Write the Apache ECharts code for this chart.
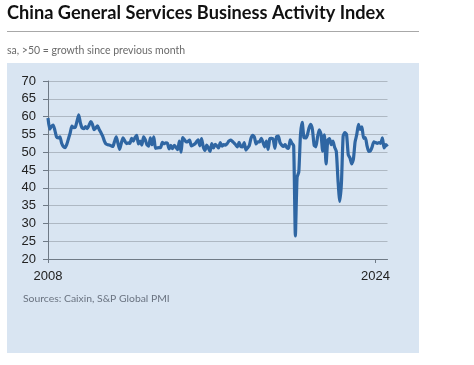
<!DOCTYPE html>
<html>
<head>
<meta charset="utf-8">
<script src="https://cdn.jsdelivr.net/npm/echarts@6/dist/echarts.min.js"></script>
<style>
html,body{margin:0;padding:0;background:#fff;}
#chart{width:474px;height:365px;}
</style>
</head>
<body>
<div id="chart"></div>
<script>
// Monthly index values, Jan 2008 - Aug 2024
var v2008 = [59.6, 56.5, 57.2, 57.6, 56.2, 54.3, 54.0, 54.3, 52.5, 51.6, 51.3, 52.2];
var v2009 = [53.8, 55.4, 57.3, 56.9, 57.0, 58.7, 60.5, 58.2, 56.8, 56.6, 57.2, 56.6];
var v2010 = [57.5, 58.6, 57.9, 56.3, 56.8, 57.4, 56.4, 55.5, 54.6, 53.2, 52.3, 52.1];
var v2011 = [52.0, 51.8, 51.6, 53.0, 54.3, 52.5, 50.8, 52.6, 54.0, 53.2, 52.4, 52.6];
var v2012 = [52.5, 53.9, 53.1, 54.1, 54.7, 52.3, 53.1, 52.0, 54.3, 53.5, 52.1, 51.7];
var v2013 = [54.0, 52.1, 54.3, 51.1, 51.2, 51.3, 51.3, 52.8, 52.4, 52.6, 52.5, 50.9];
var v2014 = [51.9, 51.0, 51.9, 51.4, 50.7, 53.1, 50.0, 54.1, 53.5, 52.9, 53.0, 53.4];
var v2015 = [51.8, 52.0, 52.3, 52.9, 53.5, 51.8, 53.8, 51.5, 50.5, 52.0, 51.2, 50.2];
var v2016 = [52.4, 51.2, 52.2, 51.8, 51.2, 52.7, 51.7, 52.1, 52.0, 52.4, 53.1, 53.4];
var v2017 = [53.1, 52.6, 52.1, 51.5, 52.8, 51.6, 51.5, 52.7, 50.6, 51.2, 51.9, 53.9];
var v2018 = [54.7, 54.2, 52.3, 52.9, 52.9, 53.9, 52.8, 51.5, 53.1, 50.8, 53.8, 53.9];
var v2019 = [53.6, 51.1, 54.4, 54.5, 52.7, 52.0, 51.6, 52.1, 51.3, 51.1, 53.5, 52.5];
var v2020 = [51.8, 26.5, 43.0, 44.4, 55.0, 58.4, 54.1, 54.0, 54.8, 56.8, 57.8, 56.3];
var v2021 = [52.0, 51.5, 54.3, 56.3, 55.1, 50.3, 54.9, 46.7, 53.4, 53.8, 52.1, 53.1];
var v2022 = [51.4, 50.2, 42.0, 36.2, 41.4, 54.5, 55.5, 55.0, 49.3, 48.4, 46.7, 48.0];
var v2023 = [52.9, 55.0, 57.8, 56.4, 57.1, 53.9, 54.1, 51.8, 50.2, 50.4, 51.5, 52.9];
var v2024 = [52.7, 52.5, 52.7, 52.5, 54.0, 51.2, 52.1, 51.6];

var yearArrays = [v2008, v2009, v2010, v2011, v2012, v2013, v2014, v2015, v2016,
                  v2017, v2018, v2019, v2020, v2021, v2022, v2023, v2024];
var firstYear = 2008;
var labeledYears = ['2008', '2024'];
var yTicks = {min: 20, max: 70, step: 5};

var categories = [];
var values = [];
yearArrays.forEach(function (arr, i) {
  arr.forEach(function (v, m) {
    categories.push((firstYear + i) + '-' + (m < 9 ? '0' : '') + (m + 1));
    values.push(v);
  });
});

function isLabeled(idx) {
  var c = categories[idx];
  return c.slice(5) === '01' && labeledYears.indexOf(c.slice(0, 4)) >= 0;
}

var chart = echarts.init(document.getElementById('chart'), null, {renderer: 'canvas'});
var axisColor = '#6f7a86';
chart.setOption({
  animation: false,
  backgroundColor: '#ffffff',
  graphic: [
    {type: 'rect', z: -10, shape: {x: 7, y: 63, width: 412, height: 290}, style: {fill: '#d9e5f2'}},
    {type: 'line', shape: {x1: 7, y1: 31.5, x2: 419, y2: 31.5}, style: {stroke: '#a8a8a8', lineWidth: 1}},
    {type: 'text', left: 7, top: 4, style: {text: 'China General Services Business Activity Index', font: '700 18.2px Lato', fill: '#111111'}},
    {type: 'text', left: 7, top: 45, style: {text: 'sa, >50 = growth since previous month', font: '400 10.5px Lato', fill: '#6a6a6a'}},
    {type: 'text', left: 23, top: 294, style: {text: 'Sources: Caixin, S&P Global PMI', font: '400 10.4px Lato', fill: '#6a7380'}}
  ],
  grid: {left: 48, right: 86.5, top: 81, bottom: 106, containLabel: false},
  xAxis: {
    type: 'category',
    data: categories,
    boundaryGap: false,
    axisLine: {show: true, lineStyle: {color: axisColor, width: 1}},
    axisTick: {show: true, length: 4, interval: function (idx) { return isLabeled(idx); }, lineStyle: {color: axisColor}},
    axisLabel: {
      interval: function (idx) { return isLabeled(idx); },
      formatter: function (v) { return v.slice(0, 4); },
      color: '#222222', fontSize: 13, fontFamily: 'Liberation Sans', margin: 11
    },
    splitLine: {show: false}
  },
  yAxis: {
    type: 'value',
    min: yTicks.min, max: yTicks.max, interval: yTicks.step,
    axisLine: {show: true, lineStyle: {color: axisColor, width: 1}},
    axisTick: {show: true, length: 5, lineStyle: {color: axisColor}},
    axisLabel: {color: '#222222', fontSize: 13, fontFamily: 'Liberation Sans', margin: 12},
    splitLine: {show: true, lineStyle: {color: '#aeb8c3', width: 1}}
  },
  series: [{
    type: 'line',
    data: values,
    showSymbol: false,
    smooth: 0.2,
    lineStyle: {color: '#2f66a3', width: 3.2},
    itemStyle: {color: '#2f66a3'}
  }]
});
</script>
</body>
</html>
